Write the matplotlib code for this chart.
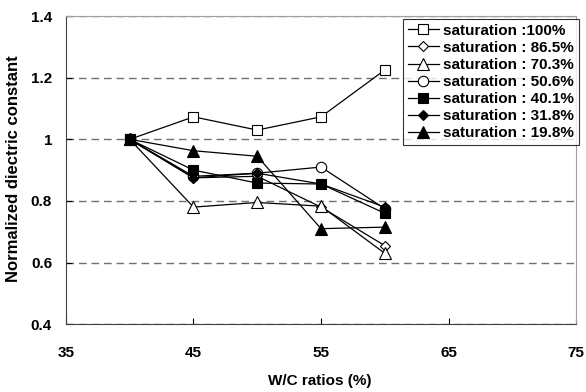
import matplotlib.pyplot as plt

plt.rcParams['font.family'] = ['Liberation Sans', 'DejaVu Sans']
plt.rcParams['font.weight'] = 'bold'

wc = [40, 45, 50, 55, 60]
labels = ["saturation :100%", "saturation : 86.5%", "saturation : 70.3%",
          "saturation : 50.6%", "saturation : 40.1%", "saturation : 31.8%",
          "saturation : 19.8%"]
s100 = [1.0, 1.073, 1.03, 1.073, 1.225]
s865 = [1.0, 0.875, 0.88, 0.78, 0.655]
s703 = [1.0, 0.78, 0.795, 0.783, 0.63]
s506 = [1.0, 0.88, 0.89, 0.91, 0.775]
s401 = [1.0, 0.90, 0.858, 0.855, 0.76]
s318 = [1.0, 0.875, 0.89, 0.855, 0.78]
s198 = [1.0, 0.963, 0.945, 0.71, 0.715]

series = [s100, s865, s703, s506, s401, s318, s198]
markers = ['s', 'D', '^', 'o', 's', 'D', '^']
fills = ['white', 'white', 'white', 'white', 'black', 'black', 'black']
sizes = [7.5, 5.5, 8, 7.5, 7.5, 5.5, 8]

fig = plt.figure(figsize=(5.86, 3.92), dpi=100)
ax = fig.add_axes([0.1126, 0.173, 0.8704, 0.786])

for vals, lab, m, fc, ms in zip(series, labels, markers, fills, sizes):
    ax.plot(wc, vals, color='black', lw=0.9, marker=m, markersize=ms,
            markerfacecolor=fc, markeredgecolor='black', markeredgewidth=0.8,
            label=lab)

ax.set_xlim(35, 75)
ax.set_ylim(0.4, 1.4)
ax.set_xticks([35, 45, 55, 65, 75])
ax.set_yticks([0.4, 0.6, 0.8, 1.0, 1.2, 1.4])
ax.set_yticklabels(['0.4', '0.6', '0.8', '1', '1.2', '1.4'])
ax.tick_params(direction='in', length=4, width=0.8, labelsize=11)
ax.tick_params(axis='x', pad=16)
ax.tick_params(axis='y', pad=10)
ax.yaxis.grid(True, linestyle=(0, (5.5, 3.5)), color='#707070', lw=1.0)
ax.set_axisbelow(True)

for side in ['top', 'right']:
    ax.spines[side].set_color('#a0a0a0')
for side in ['left', 'bottom']:
    ax.spines[side].set_color('#404040')

fig.text(320 / 586, 1 - 381 / 392, "W/C ratios (%)", fontsize=11,
         fontweight='bold', ha='center', va='center')
fig.text(14 / 586, 1 - 169 / 392, "Normalized diectric constant", fontsize=12,
         fontweight='bold', ha='center', va='center', rotation=90)

leg = ax.legend(loc='upper right', bbox_to_anchor=(1.005, 0.99), fontsize=11,
                frameon=True, fancybox=False, edgecolor='black',
                handlelength=2.0, handletextpad=0.3, labelspacing=0.2,
                borderpad=0.3, borderaxespad=0.0)
leg.get_frame().set_linewidth(0.8)

fig.savefig("out.png", dpi=100)
